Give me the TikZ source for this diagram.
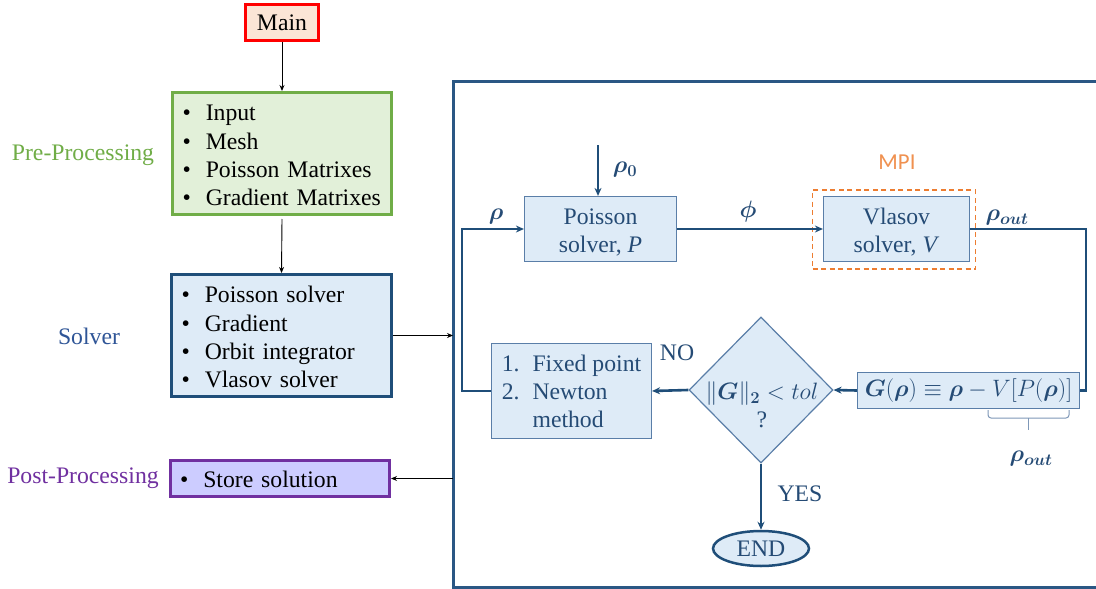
\RequirePackage{fix-cm}
\documentclass[tikz,border=0pt]{standalone}
\usepackage{amsmath}
\usepackage{bm}
\usepackage{fontspec}
\IfFontExistsTF{LiberationSerif-Regular.ttf}
  {\setmainfont{LiberationSerif}[Extension=.ttf,UprightFont=*-Regular,BoldFont=*-Bold,ItalicFont=*-Italic,BoldItalicFont=*-BoldItalic]}
  {\setmainfont{Liberation Serif}}
\newfontfamily\mpifont{Carlito}
\usetikzlibrary{shapes.geometric,arrows.meta}

\newcommand{\lowerby}[2]{\raisebox{-#1}[\height][\depth]{#2}}

\definecolor{dblue}{HTML}{1F4E79}
\definecolor{lblue}{HTML}{DEEBF7}
\definecolor{bborder}{HTML}{5A7EA8}
\definecolor{ctext}{HTML}{254B75}
\definecolor{gborder}{HTML}{70AD47}
\definecolor{gfill}{HTML}{E2F0D9}
\definecolor{pborder}{HTML}{7030A0}
\definecolor{pfill}{HTML}{CCCCFF}
\definecolor{rborder}{HTML}{FF0000}
\definecolor{rfill}{HTML}{FBE5D6}
\definecolor{mpiorange}{HTML}{ED7D31}
\definecolor{solvertxt}{HTML}{2F5597}
\definecolor{bracec}{HTML}{7F98B8}
\definecolor{framec}{HTML}{2A5784}

\tikzset{
  txt/.style={font=\rmfamily\fontsize{23.7}{28.3}\selectfont},
  leftbox/.style={draw, line width=3pt, inner sep=0pt, txt, align=left},
  innerbox/.style={draw=bborder, line width=1.2pt, fill=lblue, inner sep=0pt, txt, text=ctext, align=center},
  flow/.style={draw=dblue, line width=2.6pt},
  conn/.style={flow, -{Stealth[length=8pt,width=7pt]}},
  blk/.style={draw=black, line width=0.9pt, -{Stealth[length=6pt,width=5pt]}},
  lbl/.style={txt, text=ctext, inner sep=0pt},
}

\begin{document}
\begin{tikzpicture}[x=1pt,y=-1pt]
\clip (0,0) rectangle (1096,589);
\fill[white] (0,0) rectangle (1096,589);

% left column
\node[draw=rborder, fill=rfill, line width=3pt, minimum width=73pt, minimum height=36pt, inner sep=0pt, txt] (main) at (282,22.5) {Main};

\node[leftbox, draw=gborder, fill=gfill, minimum width=219pt, minimum height=122pt, text width=199pt] (pre) at (282,153.5)
  {\lowerby{4pt}{\begin{tabular}{@{}l@{\hspace{15pt}}l@{}}\textbullet & Input\\ \textbullet & Mesh\\ \textbullet & Poisson Matrixes\\ \textbullet & Gradient Matrixes\end{tabular}}};

\node[leftbox, draw=dblue, fill=lblue, minimum width=220pt, minimum height=122pt, text width=200pt] (solver) at (281.5,335.5)
  {\lowerby{4pt}{\begin{tabular}{@{}l@{\hspace{15pt}}l@{}}\textbullet & Poisson solver\\ \textbullet & Gradient\\ \textbullet & Orbit integrator\\ \textbullet & Vlasov solver\end{tabular}}};

\node[leftbox, draw=pborder, fill=pfill, minimum width=219pt, minimum height=36pt, text width=200pt] (post) at (280,478.5)
  {\lowerby{3pt}{\begin{tabular}{@{}l@{\hspace{15pt}}l@{}}\textbullet & Store solution\end{tabular}}};

\node[txt, text=gborder, inner sep=0pt] (prelbl) at (83,155) {Pre-Processing};
\node[txt, text=solvertxt, inner sep=0pt] (sollbl) at (89,336) {Solver};
\node[txt, text=pborder, inner sep=0pt] (postlbl) at (83,478) {Post-Processing};

% frame
\coordinate (fTL) at (453,81);
\coordinate (fBL) at (453,587);
\draw[framec, line width=3pt] (1110,81) -- (fTL) -- (fBL) -- (1110,587);

\draw[blk] (main.south) -- (pre.north);
\draw[blk] ([yshift=-3pt]pre.south) -- (solver.north);
\draw[blk] (solver.east) -- (solver.east -| fTL);
\draw[blk] (post.east -| fTL) -- (post.east);

% inner flow
\node[innerbox, minimum width=152pt, minimum height=65pt] (poisson) at (600.5,229)
  {\lowerby{4pt}{\begin{tabular}{@{}c@{}}Poisson\\solver, \textit{P}\end{tabular}}};
\node[innerbox, minimum width=146pt, minimum height=65pt] (vlasov) at (896.5,229)
  {\lowerby{4pt}{\begin{tabular}{@{}c@{}}Vlasov\\solver, \textit{V}\end{tabular}}};
\node[draw=mpiorange, line width=1.5pt, dash pattern=on 5pt off 3.5pt, minimum width=163pt, minimum height=79pt, inner sep=0pt] (mpibox) at (894,229.5) {};
\node[font=\mpifont\fontsize{22.8}{27}\selectfont, text=mpiorange!85, inner sep=0pt] (mpilbl) at (897,162) {MPI};

\node[innerbox, minimum width=160pt, minimum height=95pt] (fixed) at (571.5,391)
  {\lowerby{3pt}{\begin{tabular}{@{}l@{\hspace{13pt}}l@{}}1. & Fixed point\\ 2. & Newton\\ & method\end{tabular}}};

\node[diamond, draw=bborder, fill=lblue, line width=1.2pt, minimum width=144pt, minimum height=146pt, inner sep=0pt] (dia) at (761,390) {};
\node[lbl, align=center] (diatxt) at (762,405) {$\|\bm{G}\|_{\bm{2}}<tol$\\?};

\node[innerbox, minimum width=222pt, minimum height=36pt] (gbox) at (968.5,390.5) {$\bm{G}(\bm{\rho})\equiv\bm{\rho}-V[P(\bm{\rho})]$};

\node[ellipse, draw=dblue, line width=2.5pt, fill=lblue, minimum width=96pt, minimum height=35pt, inner sep=0pt, txt, text=ctext] (endn) at (761,548.5) {END};

% connectors
\coordinate (r0start) at (598,145);
\draw[conn] (r0start) -- (r0start |- poisson.north);
\draw[conn] (poisson.east) -- (vlasov.west);
\coordinate (rc) at (1086,229);
\draw[flow] (vlasov.east) -- (vlasov.east -| rc) -- (rc |- gbox.east) -- (gbox.east);
\draw[conn] (gbox.west) -- (dia.east);
\draw[conn] (dia.west) -- (fixed.east);
\coordinate (lc) at (462,232);
\draw[conn] (fixed.west) -- (fixed.west -| lc) -- (lc |- poisson.west) -- (poisson.west);
\draw[conn] (dia.south) -- (endn.north);

% brace
\draw[bracec, line width=1pt, rounded corners=3pt] (988,410) -- (988,418) -- (1069,418) -- (1069,410);
\draw[bracec, line width=1pt] (1028.5,418) -- (1028.5,430);

% labels
\node[lbl] (rho0) at (625,170) {$\bm{\rho_0}$};
\node[lbl] (rholbl) at (496,217) {$\bm{\rho}$};
\node[lbl] (philbl) at (748,212) {$\bm{\phi}$};
\node[lbl] (rhoout) at (1007,218) {$\bm{\rho_{out}}$};
\node[lbl] (rhoout2) at (1031,459) {$\bm{\rho_{out}}$};
\node[lbl] (nolbl) at (677,353) {NO};
\node[lbl] (yeslbl) at (800,494) {YES};
\end{tikzpicture}
\end{document}
